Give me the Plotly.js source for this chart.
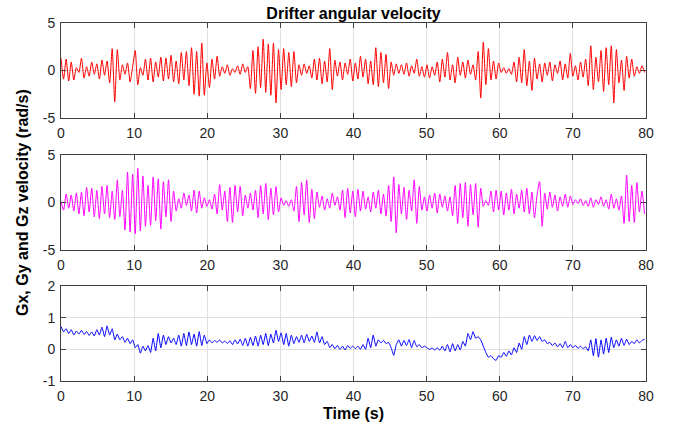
<!DOCTYPE html>
<html>
<head>
<meta charset="utf-8">
<script src="https://cdn.plot.ly/plotly-3.0.1.min.js"></script>
<style>html,body{margin:0;padding:0;background:#fff;}#chart{width:682px;height:432px;}</style>
</head>
<body>
<div id="chart"></div>
<script>
const sampleStep = 0.35;

// Gx (rad/s), one row per 10 s
const gx = [
  1.3,-0.9,1.2,-1.1,0.9,-1.0,0.3,-0.2,1.3,-0.8,0.4,-0.6,0.9,-0.4,0.7,-0.9,1.1,-0.5,1.0,-1.3,2.3,-3.3,2.2,-1.0,0.6,-0.4,0.8,-1.2,0.4,
  2.1,-1.5,0.3,-0.5,1.2,-1.0,1.3,-1.2,0.9,-0.7,1.4,-1.1,1.3,-0.9,1.6,-1.2,1.0,-1.4,1.9,-1.0,2.0,-1.6,2.4,-2.5,2.0,-2.7,2.9,-2.6,0.8,
  -1.8,1.2,-0.9,1.5,-0.6,0.4,-0.3,0.6,-0.5,0.2,-0.2,0.5,-0.4,0.7,-0.2,0.4,-1.9,2.1,-2.4,2.5,-1.8,3.3,-2.3,2.8,-2.6,2.9,-3.4,2.2,
  -2.0,2.3,-1.5,1.9,-1.7,2.0,-1.3,0.6,-0.5,0.7,-0.3,0.5,-0.8,1.2,-1.0,1.3,-1.4,1.0,-1.2,2.3,-2.0,1.1,-0.6,0.9,-1.0,0.8,-0.4,1.2,-1.1,
  0.8,-0.9,1.5,-0.7,1.2,-1.4,1.0,-1.5,2.4,-1.7,1.9,-1.3,1.7,-1.9,0.9,-0.5,0.7,-0.3,0.6,-0.4,0.8,-0.6,0.5,-0.3,1.2,-0.6,0.4,-0.7,
  0.6,-0.8,0.4,-0.5,0.9,-1.2,1.2,-0.7,1.9,-1.0,0.6,-1.3,1.4,-0.5,0.9,-0.8,1.1,-0.4,0.6,-1.0,2.0,-2.9,3.0,-1.5,2.3,-1.0,1.0,-0.9,0.8,
  -0.2,0.3,-0.3,0.2,-0.4,0.9,-1.2,1.4,-1.3,2.2,-1.6,1.0,-2.1,1.3,-0.9,0.7,-1.2,0.8,-0.5,0.9,-1.1,0.6,-0.3,1.0,-1.0,0.7,-0.8,1.8,
  -0.6,0.5,-1.0,0.9,-0.7,1.2,-1.6,2.6,-2.0,1.4,-1.2,2.1,-2.2,2.4,-1.5,2.6,-3.4,2.2,-1.3,1.1,-2.1,1.5,-0.8,1.2,-0.6,0.4,-0.3,0.5,-0.2
];

// Gy (rad/s) - middle panel
const gy = [
  0.1,-0.8,0.9,-0.6,0.8,-0.9,1.0,-1.2,1.1,-1.4,1.6,-1.0,1.5,-1.5,1.3,-1.7,1.7,-1.2,1.8,-1.6,1.2,-1.8,2.4,-1.5,1.3,-2.9,3.2,-3.1,3.0,
  -3.3,3.6,-3.0,2.8,-2.5,1.8,-2.4,2.7,-1.9,2.5,-2.8,2.2,-1.5,2.4,-2.0,1.2,-0.9,0.4,-0.6,1.0,-0.3,0.8,-0.9,1.3,-1.1,1.2,-0.6,0.5,-0.4,
  0.3,-0.7,0.9,-1.2,1.9,-0.8,1.2,-2.0,1.6,-2.1,1.8,-1.0,1.7,-1.4,0.8,-0.6,1.0,-0.8,1.3,-1.6,1.8,-1.2,2.0,-1.8,1.5,-1.3,1.7,-1.0,
  0.5,-0.3,0.2,-0.4,0.3,-0.9,1.7,-2.0,2.1,-1.3,2.4,-2.1,1.4,-1.7,1.1,-0.5,0.7,-0.8,0.4,-0.6,1.0,-0.3,0.6,-0.8,1.3,-1.6,1.5,-1.1,1.2,
  -1.5,1.4,-0.9,1.2,-0.7,0.6,-1.0,1.1,-0.6,1.3,-1.2,0.9,-1.4,1.8,-2.0,2.7,-3.2,1.9,-1.2,1.6,-1.8,1.3,-0.9,2.4,-2.2,1.7,-0.8,0.6,
  -0.9,0.8,-0.6,1.0,-1.1,0.9,-0.5,0.7,-0.9,0.6,-1.4,1.8,-2.2,2.0,-1.6,2.1,-2.5,1.9,-1.3,2.0,-2.6,1.5,-0.4,0.2,-0.3,1.2,-1.0,1.3,-0.8,
  1.2,-1.3,1.0,-0.8,1.4,-1.2,0.9,-0.6,1.3,-1.0,1.5,-1.2,1.1,-1.6,0.8,2.2,-2.5,1.0,-0.7,1.1,-0.5,0.8,-0.9,0.6,-0.4,0.9,-0.5,0.7,
  -0.2,0.3,-0.1,0.4,-0.3,0.2,-0.4,0.5,-0.5,0.3,-0.2,0.6,-0.4,0.3,-0.7,0.9,-0.6,0.4,-0.8,0.7,-2.2,2.9,-2.0,1.8,-2.1,2.1,-1.0,1.2,-1.2
];

// Gz (rad/s) - bottom panel
const gz = [
  0.72,0.55,0.65,0.50,0.62,0.45,0.58,0.48,0.60,0.47,0.56,0.44,0.55,0.42,0.62,0.45,0.70,0.40,0.74,0.45,0.65,0.30,0.48,0.30,0.40,0.22,0.35,0.18,0.30,
  0.05,0.15,-0.12,0.10,-0.05,0.12,-0.10,0.35,-0.05,0.50,0.05,0.45,0.15,0.40,0.20,0.35,0.15,0.45,0.10,0.50,0.12,0.55,0.15,0.48,0.10,0.56,0.12,0.45,0.18,
  0.30,0.20,0.28,0.22,0.30,0.20,0.26,0.18,0.27,0.15,0.30,0.17,0.32,0.12,0.35,0.10,0.38,0.12,0.42,0.10,0.45,0.15,0.50,0.12,0.48,0.20,0.60,0.25,
  0.52,0.15,0.50,0.10,0.45,0.18,0.40,0.22,0.45,0.20,0.48,0.25,0.42,0.22,0.55,0.20,0.40,0.15,0.25,0.05,0.15,0.02,0.12,0.00,0.10,-0.02,0.12,0.03,0.10,
  0.02,0.10,0.00,0.15,0.00,0.35,0.05,0.45,0.10,0.30,0.20,0.28,0.18,0.22,0.05,-0.19,0.15,0.30,0.10,0.28,0.12,0.31,0.05,0.28,0.08,0.15,0.05,0.10,
  0.05,0.00,0.04,-0.02,0.05,-0.03,0.10,-0.05,0.15,-0.08,0.18,-0.05,0.15,-0.02,0.25,0.10,0.50,0.30,0.56,0.35,0.40,0.30,0.10,-0.10,-0.25,-0.20,-0.30,-0.35,-0.20,
  -0.25,-0.10,-0.22,-0.05,-0.18,0.05,-0.10,0.20,0.00,0.40,0.15,0.45,0.25,0.43,0.28,0.40,0.25,0.30,0.18,0.22,0.12,0.20,0.08,0.18,0.05,0.25,0.05,0.15,
  0.05,0.12,0.03,0.10,0.02,0.08,-0.05,0.30,-0.20,0.34,-0.25,0.30,-0.15,0.35,-0.10,0.38,0.05,0.30,0.10,0.35,0.12,0.32,0.15,0.25,0.18,0.30,0.20,0.28,0.32
];

const xTicks = [0,10,20,30,40,50,60,70,80];
const yTicks12 = [-5,0,5];
const yTicks12Text = ['-5','0','5'];
const yTicks3 = [-1,0,1,2];
const yTicks3Text = ['-1','0','1','2'];

const time = gx.map((_, i) => i * sampleStep);

const axColor = '#404040';
const baseAxis = {
  showline: true, linecolor: axColor, linewidth: 1, mirror: 'ticks',
  ticks: 'inside', ticklen: 5, tickcolor: axColor, tickwidth: 1,
  showgrid: true, gridcolor: '#e0e0e0', gridwidth: 1, zeroline: false,
  tickfont: {size: 14, color: '#262626'}, ticklabelstandoff: 2
};
function xa(anchor){
  return Object.assign({}, baseAxis, {anchor: anchor, range: [0,80], tickmode: 'array', tickvals: xTicks, ticktext: xTicks.map(String), domain: [0,1]});
}
function ya(dom, range, vals, text){
  return Object.assign({}, baseAxis, {domain: dom, range: range, tickmode: 'array', tickvals: vals, ticktext: text});
}

const traces = [
  {x: time, y: gx, xaxis: 'x', yaxis: 'y', type: 'scatter', mode: 'lines', line: {color: '#ff0000', width: 1, shape: 'spline', smoothing: 0.6}},
  {x: time, y: gy, xaxis: 'x2', yaxis: 'y2', type: 'scatter', mode: 'lines', line: {color: '#ff00ff', width: 1, shape: 'spline', smoothing: 0.6}},
  {x: time, y: gz, xaxis: 'x3', yaxis: 'y3', type: 'scatter', mode: 'lines', line: {color: '#0000ff', width: 1, shape: 'spline', smoothing: 0.3}}
];

const layout = {
  width: 682, height: 432,
  margin: {l: 61, r: 36, t: 23, b: 51, pad: 0},
  paper_bgcolor: '#ffffff', plot_bgcolor: '#ffffff',
  showlegend: false,
  font: {family: 'Liberation Sans, Arial, sans-serif', size: 14, color: '#262626'},
  title: {text: '<b>Drifter angular velocity</b>', xref: 'paper', x: 0.5, xanchor: 'center', yref: 'container', y: 0.969, yanchor: 'middle', font: {size: 16, color: '#000000'}},
  xaxis: xa('y'),
  yaxis: ya([0.7346, 1], [-5, 5], yTicks12, yTicks12Text),
  xaxis2: xa('y2'),
  yaxis2: ya([0.366, 0.631], [-5, 5], yTicks12, yTicks12Text),
  xaxis3: xa('y3'),
  yaxis3: ya([0, 0.2654], [-1, 2], yTicks3, yTicks3Text),
  annotations: [
    {text: '<b>Gx, Gy and Gz velocity (rad/s)</b>', xref: 'paper', yref: 'paper', x: -0.0667, y: 0.5, xanchor: 'center', yanchor: 'middle', textangle: -90, showarrow: false, font: {size: 16, color: '#000000'}},
    {text: '<b>Time (s)</b>', xref: 'paper', yref: 'paper', x: 0.5, y: -0.0894, xanchor: 'center', yanchor: 'middle', showarrow: false, font: {size: 16, color: '#000000'}}
  ]
};

Plotly.newPlot('chart', traces, layout, {staticPlot: true, displayModeBar: false});
</script>
</body>
</html>
